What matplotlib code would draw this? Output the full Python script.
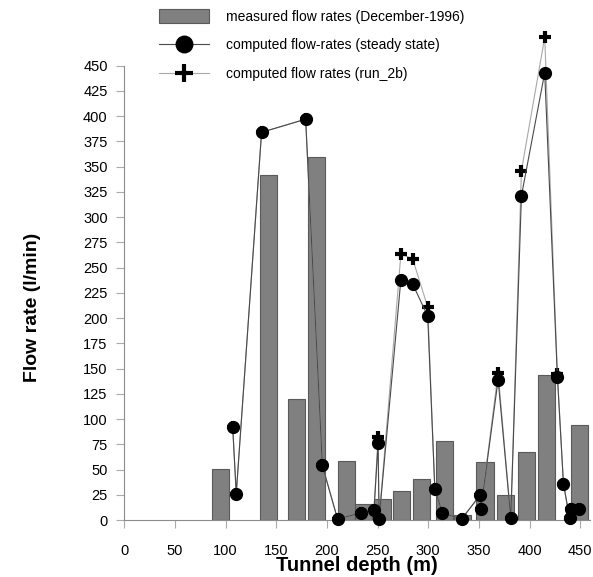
import numpy as np
import matplotlib.pyplot as plt

plt.rcParams['font.family'] = ['Liberation Sans', 'DejaVu Sans']

# measured flow rates (bars)
bar_depth = [95, 142, 170, 190, 219, 236, 255, 274, 293, 316, 334, 356, 376, 397, 417, 449]
bar_flow = [51, 342, 120, 360, 58, 16, 21, 29, 41, 78, 5, 57, 25, 67, 144, 94]

# computed flow rates, same depths for both runs
depth = [107, 110.5, 135.5, 179, 195.5, 210.5, 233.5, 246.5, 250.5, 251.5, 273, 284.5,
         299.5, 306.5, 314, 333, 351.5, 352, 369, 381.5, 392, 415, 427.5, 433.5,
         439.5, 441, 448.5]
steady = [92, 26, 384, 397, 54, 1, 7, 10, 76, 1, 238, 234,
          202, 31, 7, 1, 25, 11, 139, 2, 321, 443, 142, 36,
          2, 11, 11]
run_2b = [92, 26, 384, 397, 54, 1, 7, 10, 82, 1, 263, 259,
          211, 31, 7, 1, 25, 11, 146, 2, 346, 478, 145, 36,
          2, 11, 11]

yticks = np.arange(0, 451, 25)
xticks = np.arange(0, 451, 50)

fig = plt.figure(figsize=(5.93, 5.77), dpi=100)
ax = fig.add_axes([124.3 / 593, 1 - 520 / 577, 466 / 593, 494.7 / 577])

bars = ax.bar(bar_depth, bar_flow, width=17, color='#808080', edgecolor='#5a5a5a',
              linewidth=0.8, zorder=1, label='measured flow rates (December-1996)')
l2, = ax.plot(depth, run_2b, color='#a8a8a8', lw=0.8, marker='+', ms=9, mew=3,
              mec='black', zorder=2, clip_on=False, label='computed flow rates (run_2b)')
l1, = ax.plot(depth, steady, color='#4a4a4a', lw=0.8, marker='o', ms=8.5,
              mfc='black', mec='black', zorder=3, clip_on=False,
              label='computed flow-rates (steady state)')

ax.set_xlim(0, 460)
ax.set_ylim(0, 490)
ax.set_xticks(xticks)
ax.set_yticks(yticks)
ax.spines['top'].set_visible(False)
ax.spines['right'].set_visible(False)
ax.spines['left'].set_bounds(0, 450)
for s in ['left', 'bottom']:
    ax.spines[s].set_color('#8c8c8c')
    ax.spines[s].set_linewidth(0.8)
ax.tick_params(axis='both', direction='out', length=6, width=0.8, color='#aaaaaa',
               labelsize=10.5)
ax.tick_params(axis='y', pad=6)
ax.tick_params(axis='x', pad=11)

ax.set_xlabel('Tunnel depth (m)', fontsize=14.5, fontweight='bold', labelpad=-1)
ax.set_ylabel('Flow rate (l/min)', fontsize=14, fontweight='bold')
ax.yaxis.set_label_coords(-0.178, 0.43)

fig.legend([bars, l1, l2],
           ['measured flow rates (December-1996)', 'computed flow-rates (steady state)',
            'computed flow rates (run_2b)'],
           loc='upper left', bbox_to_anchor=(159 / 593, 1 - 9 / 577), frameon=False,
           fontsize=10, borderpad=0, borderaxespad=0, handlelength=3.6,
           handleheight=1.15, handletextpad=1.2, labelspacing=1.03, markerscale=1.4)

fig.savefig('out.png', dpi=100)
